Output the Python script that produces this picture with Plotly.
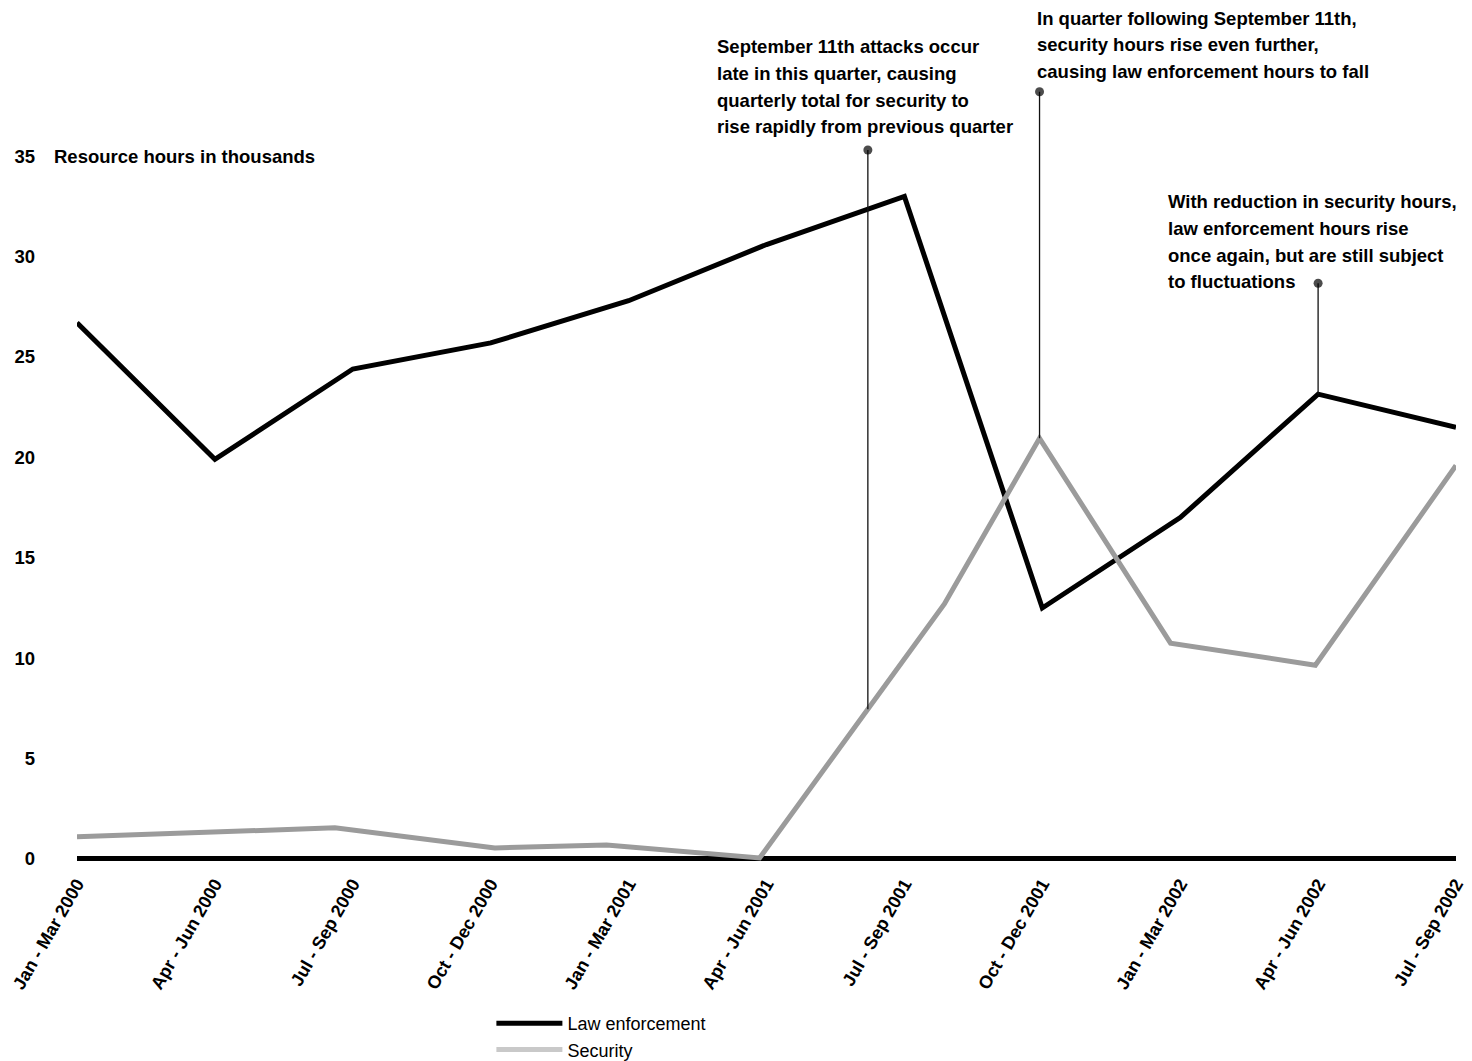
import numpy as np
import plotly.graph_objects as go

QUARTERS = ["Jan - Mar 2000", "Apr - Jun 2000", "Jul - Sep 2000", "Oct - Dec 2000",
            "Jan - Mar 2001", "Apr - Jun 2001", "Jul - Sep 2001", "Oct - Dec 2001",
            "Jan - Mar 2002", "Apr - Jun 2002", "Jul - Sep 2002"]

# Law enforcement hours (thousands), one value per quarter
law_x = list(range(len(QUARTERS)))
law_y = [26.7, 19.9, 24.4, 25.7, 27.8, 30.6, 33.0, 12.5, 17.0, 23.15, 21.5]

# Security hours (thousands); vertices as drawn (positions in quarter units)
sec_x = [0, 1.87, 3.03, 3.84, 4.95, 6.29, 6.98, 7.93, 8.98, 10]
sec_y = [1.1, 1.55, 0.55, 0.7, 0.05, 12.7, 20.95, 10.75, 9.65, 19.6]

Y_TICKS = [0, 5, 10, 15, 20, 25, 30, 35]

ANNOT_1 = ["September 11th attacks occur", "late in this quarter, causing",
           "quarterly total for security to", "rise rapidly from previous quarter"]
ANNOT_2 = ["In quarter following September 11th,", "security hours rise even further,",
           "causing law enforcement hours to fall"]
ANNOT_3 = ["With reduction in security hours,", "law enforcement hours rise",
           "once again, but are still subject", "to fluctuations"]

FONT = "Liberation Sans, Arial, Helvetica, sans-serif"
BLACK = "#000000"
GRAY = "#9b9b9b"
LIGHT = "#c9c9c9"

fig = go.Figure()

fig.add_trace(go.Scatter(x=law_x, y=law_y, mode="lines", name="Law enforcement",
                         line=dict(color=BLACK, width=5), showlegend=False,
                         hoverinfo="skip"))
fig.add_trace(go.Scatter(x=sec_x, y=sec_y, mode="lines", name="Security",
                         line=dict(color=GRAY, width=5), showlegend=False,
                         hoverinfo="skip"))

# legend entries
fig.add_trace(go.Scatter(x=[None], y=[None], mode="lines", name="Law enforcement",
                         line=dict(color=BLACK, width=5)))
fig.add_trace(go.Scatter(x=[None], y=[None], mode="lines", name="Security",
                         line=dict(color=LIGHT, width=5)))

# connectors (pointer lines with a dot on top)
c1_x = 5.735
connectors = [
    (c1_x, float(np.interp(c1_x, sec_x, sec_y)), 35.31),
    (sec_x[6], sec_y[6], 38.21),
    (law_x[9], law_y[9], 28.67),
]
for cx, y0, y1 in connectors:
    fig.add_trace(go.Scatter(x=[cx, cx], y=[y0, y1], mode="lines+markers",
                             line=dict(color="#111111", width=1.3),
                             marker=dict(size=[0, 9], color=BLACK,
                                         line=dict(width=0)),
                             showlegend=False, hoverinfo="skip", cliponaxis=False))

LINE_STEP = 26.7
blocks = [(4.627, 40.45, ANNOT_1), (6.947, 41.87, ANNOT_2), (7.897, 32.73, ANNOT_3)]
annotations = []
for bx, by, lines in blocks:
    for i, txt in enumerate(lines):
        annotations.append(dict(x=bx, y=by, xref="x", yref="y", text=txt,
                                showarrow=False, xanchor="left", yanchor="middle",
                                yshift=-LINE_STEP * i,
                                font=dict(family=FONT, size=18.5, color=BLACK,
                                          weight="bold")))
annotations.append(dict(x=0, y=35, xref="paper", yref="y", xshift=-25,
                        text="Resource hours in thousands", showarrow=False,
                        xanchor="left", yanchor="middle",
                        font=dict(family=FONT, size=18.5, color=BLACK, weight="bold")))

fig.update_layout(
    width=1464, height=1061,
    margin=dict(l=69, r=16, t=0, b=200, autoexpand=False),
    paper_bgcolor="white", plot_bgcolor="white",
    font=dict(family=FONT, color=BLACK),
    annotations=annotations,
    legend=dict(x=0.3005, y=-0.1579, xanchor="left", yanchor="top",
                font=dict(family=FONT, size=18, color=BLACK),
                itemwidth=66, tracegroupgap=0, bgcolor="rgba(0,0,0,0)"),
    xaxis=dict(range=[0, 10], tickvals=law_x, ticktext=QUARTERS, tickangle=-60,
               showgrid=False, zeroline=False, showline=False, ticks="",
               automargin=False,
               tickfont=dict(family=FONT, size=18, color=BLACK, weight="bold")),
    yaxis=dict(range=[-0.5, 42.38], tickvals=Y_TICKS, showgrid=False,
               zeroline=True, zerolinecolor=BLACK, zerolinewidth=5,
               showline=False, ticks="", ticklabelstandoff=41, automargin=False,
               tickfont=dict(family=FONT, size=18.5, color=BLACK, weight="bold")),
)

fig.write_html("out.html")
